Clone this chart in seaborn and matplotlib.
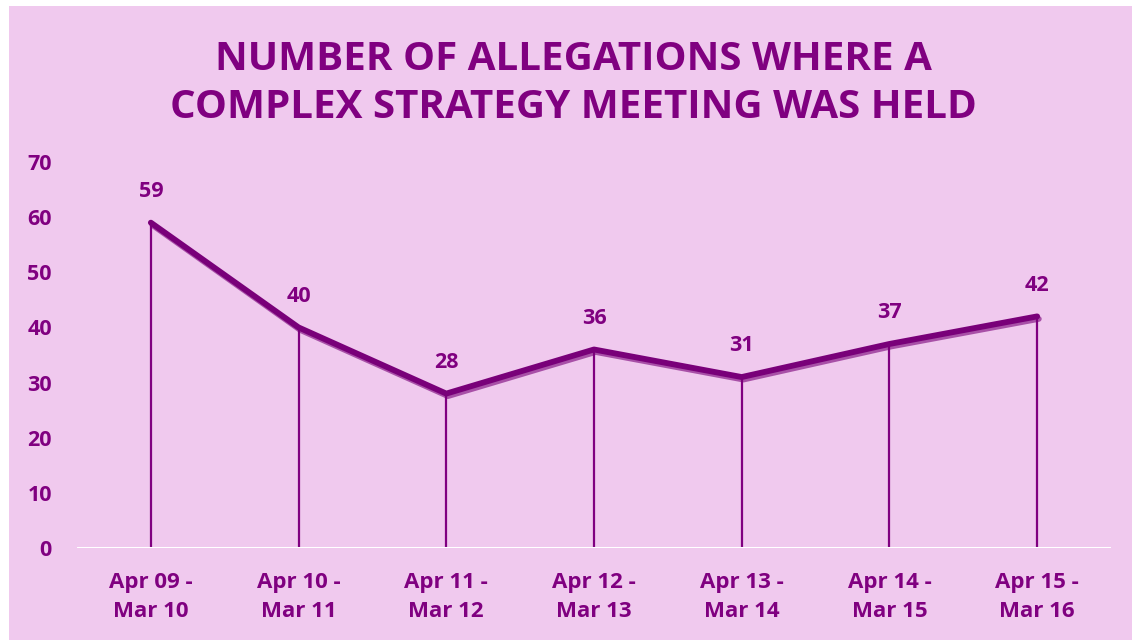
import matplotlib
matplotlib.use("Agg")
import matplotlib.pyplot as plt
import matplotlib.patheffects as pe
from matplotlib.patches import Rectangle
import pandas as pd
import seaborn as sns

# Reporting periods and number of allegations with a complex strategy meeting
periods = ["Apr 09 -\nMar 10", "Apr 10 -\nMar 11", "Apr 11 -\nMar 12",
           "Apr 12 -\nMar 13", "Apr 13 -\nMar 14", "Apr 14 -\nMar 15",
           "Apr 15 -\nMar 16"]
allegations = [59, 40, 28, 36, 31, 37, 42]
y_ticks = [0, 10, 20, 30, 40, 50, 60, 70]
title = "NUMBER OF ALLEGATIONS WHERE A\nCOMPLEX STRATEGY MEETING WAS HELD"

PINK = "#F0C9EE"
PURPLE = "#800080"
LINE = "#790079"

sns.set_theme(style="white")
plt.rcParams["font.family"] = ["Open Sans", "DejaVu Sans"]

df = pd.DataFrame({"period": periods, "allegations": allegations})
df["pos"] = range(len(df))

fig = plt.figure(figsize=(11.32, 6.4), dpi=100, facecolor="white")
# pink panel behind the chart
fig.patches.append(Rectangle((9 / 1132, 0), 1, 1 - 6 / 640,
                             transform=fig.transFigure, facecolor=PINK,
                             edgecolor="none", zorder=-10))

ax = fig.add_axes([77 / 1132, 1 - 548 / 640, (1111 - 77) / 1132, (548 - 162) / 640])
ax.set_facecolor("none")

# drop lines from each point to the baseline
ax.vlines(df["pos"], 0, df["allegations"], color=PURPLE, lw=1.6, zorder=2)

sns.lineplot(data=df, x="pos", y="allegations", ax=ax, color=LINE, lw=4.2,
             solid_capstyle="round", solid_joinstyle="round", zorder=4,
             path_effects=[pe.SimpleLineShadow(offset=(1.2, -1.8), shadow_color=LINE, alpha=0.6),
                           pe.Normal()])

for x, v in zip(df["pos"], df["allegations"]):
    ax.annotate(f"{v}", (x, v), xytext=(0, 15), textcoords="offset points",
                ha="center", va="bottom", fontsize=15.5, fontweight="bold", color=PURPLE)

ax.axhline(0, color="white", lw=2.2, zorder=3)

ax.set_xlim(-0.5, len(df) - 0.5)
ax.set_ylim(0, 70)
ax.set_yticks(y_ticks)
ax.set_yticklabels([str(t) for t in y_ticks], fontsize=15.5, fontweight="bold", color=PURPLE)
ax.set_xticks(df["pos"])
ax.set_xticklabels(periods, fontsize=16, fontweight="bold", color=PURPLE, linespacing=1.5)
ax.tick_params(axis="y", length=0, pad=18)
ax.tick_params(axis="x", length=0, pad=17)
ax.set_xlabel("")
ax.set_ylabel("")
for s in ax.spines.values():
    s.set_visible(False)
ax.grid(False)

fig.text(573 / 1132, 1 - 83 / 640, title, ha="center", va="center",
         fontsize=29, fontweight="bold", color=PURPLE, linespacing=1.3)

fig.savefig("out.png", dpi=100, facecolor="white")
